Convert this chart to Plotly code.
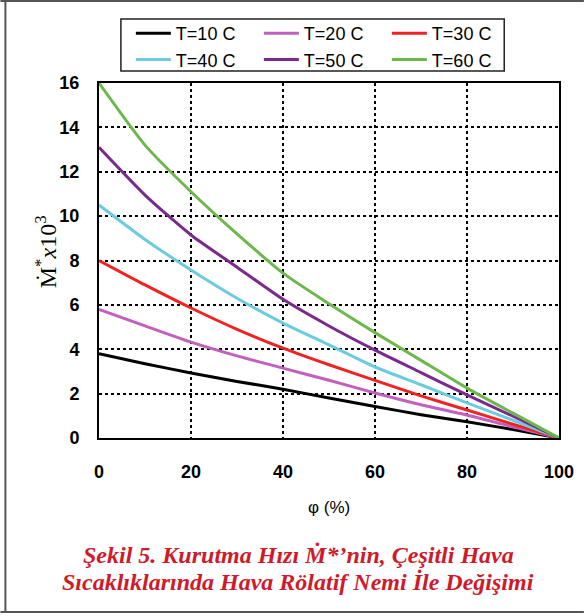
import plotly.graph_objects as go

phi = [0, 10, 20, 30, 40, 50, 60, 70, 80, 90, 100]
m_t10 = [3.8, 3.35, 2.93, 2.55, 2.2, 1.8, 1.42, 1.05, 0.73, 0.38, 0.0]
m_t20 = [5.8, 5.05, 4.32, 3.7, 3.15, 2.6, 2.03, 1.5, 1.04, 0.5, 0.0]
m_t30 = [8.0, 6.9, 5.86, 4.9, 4.05, 3.3, 2.6, 1.9, 1.26, 0.62, 0.0]
m_t40 = [10.5, 8.95, 7.57, 6.3, 5.18, 4.2, 3.2, 2.4, 1.58, 0.8, 0.0]
m_t50 = [13.1, 10.95, 9.15, 7.7, 6.25, 5.05, 3.96, 2.95, 1.94, 0.98, 0.0]
m_t60 = [16.0, 13.2, 11.1, 9.2, 7.43, 6.05, 4.75, 3.5, 2.25, 1.12, 0.0]

series_names = ["T=10 C", "T=20 C", "T=30 C", "T=40 C", "T=50 C", "T=60 C"]
series_vals = [m_t10, m_t20, m_t30, m_t40, m_t50, m_t60]
colors = ["#000000", "#c261bd", "#f02222", "#6dcbe0", "#7a2a8c", "#6cb84a"]

x_ticks = [0, 20, 40, 60, 80, 100]
y_ticks = [0, 2, 4, 6, 8, 10, 12, 14, 16]

caption1 = "Şekil 5. Kurutma Hızı Ṁ*’nin, Çeşitli Hava"
caption2 = "Sıcaklıklarında Hava Rölatif Nemi İle Değişimi"

W, H = 586, 616
L, R, T, B = 99, 561, 83, 438

def px(x):
    return (x - L) / (R - L)

def py(y):
    return (B - y) / (B - T)

fig = go.Figure()
for name, vals, c in zip(series_names, series_vals, colors):
    fig.add_trace(go.Scatter(x=phi, y=vals, mode="lines", name=name,
                             line=dict(color=c, width=3, shape="spline", smoothing=0.6)))

fig.update_layout(
    width=W, height=H,
    margin=dict(l=L, r=W - R, t=T, b=H - B, pad=0),
    paper_bgcolor="white", plot_bgcolor="white",
    font=dict(family="Liberation Sans, Arial", color="black"),
    showlegend=True,
    legend=dict(
        orientation="h", x=px(131), xanchor="left", y=py(15), yanchor="top",
        bgcolor="rgba(0,0,0,0)", borderwidth=0,
        font=dict(size=18, family="Liberation Sans, Arial", color="black"),
        entrywidth=78, entrywidthmode="pixels", traceorder="normal",
        itemwidth=35, tracegroupgap=0,
    ),
)

fig.update_xaxes(
    range=[0, 100], tickvals=x_ticks, ticktext=[str(v) for v in x_ticks],
    showline=True, linecolor="black", linewidth=2, mirror=True,
    showgrid=True, gridcolor="black", griddash="dot", gridwidth=2,
    zeroline=False, ticks="", ticklabelstandoff=16,
    tickfont=dict(size=18, family="Liberation Sans, Arial", color="black", weight="bold"),
)
fig.update_yaxes(
    range=[0, 16], tickvals=y_ticks, ticktext=[str(v) for v in y_ticks],
    showline=True, linecolor="black", linewidth=2, mirror=True,
    showgrid=True, gridcolor="black", griddash="dot", gridwidth=2,
    zeroline=False, ticks="", ticklabelstandoff=14,
    tickfont=dict(size=18, family="Liberation Sans, Arial", color="black", weight="bold"),
)

# legend frame
fig.add_shape(type="rect", xref="paper", yref="paper", x0=px(121), x1=px(506), y0=py(19), y1=py(71),
              line=dict(color="#222222", width=1.5), fillcolor="rgba(0,0,0,0)", layer="above")

# axis titles
fig.add_annotation(text="φ (%)", xref="paper", yref="paper", x=px(330), y=py(507),
                   showarrow=False, font=dict(size=17, family="Liberation Sans, Arial", color="black"),
                   xanchor="center", yanchor="middle")
fig.add_annotation(text="Ṁ<sup>*</sup><i>x</i>10<sup>3</sup>", xref="paper", yref="paper",
                   x=px(46), y=py(252), textangle=-90, showarrow=False,
                   font=dict(size=24, family="Liberation Serif, Times New Roman", color="black"),
                   xanchor="center", yanchor="middle")

# caption
cap_font = dict(size=24, family="Liberation Serif, Times New Roman", color="#d01a2a",
                weight="bold", style="italic")
fig.add_annotation(text=caption1, xref="paper", yref="paper", x=px(299), y=py(555),
                   showarrow=False, font=cap_font, xanchor="center", yanchor="middle")
fig.add_annotation(text=caption2, xref="paper", yref="paper", x=px(299), y=py(582),
                   showarrow=False, font=cap_font, xanchor="center", yanchor="middle")

# outer frame lines
frame = dict(color="#555555", width=2)
fig.add_shape(type="line", xref="paper", yref="paper", x0=px(0), x1=px(586), y0=py(1), y1=py(1), line=frame)
fig.add_shape(type="line", xref="paper", yref="paper", x0=px(0), x1=px(586), y0=py(612), y1=py(612), line=frame)
fig.add_shape(type="line", xref="paper", yref="paper", x0=px(5), x1=px(5), y0=py(1), y1=py(612), line=frame)

fig.write_html("out.html")
